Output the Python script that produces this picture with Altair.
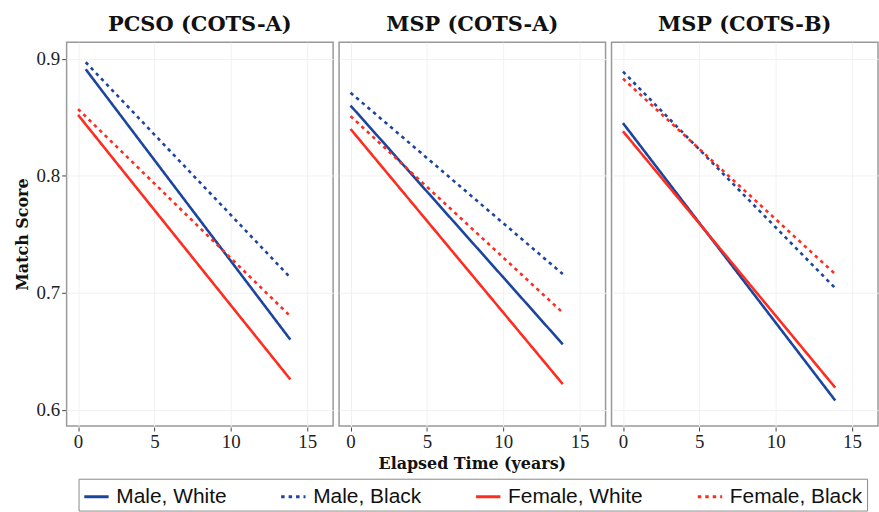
import altair as alt
import pandas as pd

panels = ["PCSO (COTS-A)", "MSP (COTS-A)", "MSP (COTS-B)"]
groups = ["Male, White", "Male, Black", "Female, White", "Female, Black"]

# per panel, per group (order of groups)
x_start = {
    "PCSO (COTS-A)": [0.5, 0.5, 0.0, 0.0],
    "MSP (COTS-A)": [0.0, 0.0, 0.0, 0.0],
    "MSP (COTS-B)": [0.0, 0.0, 0.0, 0.0],
}
x_end = {
    "PCSO (COTS-A)": [13.9, 13.9, 13.9, 13.9],
    "MSP (COTS-A)": [13.9, 13.9, 13.9, 13.9],
    "MSP (COTS-B)": [13.9, 13.9, 13.9, 13.9],
}
y_start = {
    "PCSO (COTS-A)": [0.891, 0.897, 0.852, 0.857],
    "MSP (COTS-A)": [0.860, 0.871, 0.840, 0.851],
    "MSP (COTS-B)": [0.845, 0.889, 0.838, 0.883],
}
y_end = {
    "PCSO (COTS-A)": [0.660, 0.713, 0.626, 0.680],
    "MSP (COTS-A)": [0.656, 0.716, 0.622, 0.683],
    "MSP (COTS-B)": [0.608, 0.704, 0.619, 0.716],
}

colors = ["#1c45a0", "#1c45a0", "#ff2d1f", "#ff2d1f"]
dashes = [[1, 0], [3.5, 4], [1, 0], [3.5, 4]]

rows = []
for p in panels:
    for i, g in enumerate(groups):
        rows.append({"panel": p, "group": g, "t": x_start[p][i], "score": y_start[p][i]})
        rows.append({"panel": p, "group": g, "t": x_end[p][i], "score": y_end[p][i]})
df = pd.DataFrame(rows)

legend = alt.Legend(
    title=None,
    orient="none",
    legendX=12,
    legendY=439,
    direction="horizontal",
    columns=4,
    columnPadding=48,
    labelFont="Liberation Sans",
    labelFontSize=21,
    labelColor="#111",
    labelOffset=6,
    symbolType="stroke",
    symbolSize=600,
    symbolStrokeWidth=3,
    strokeColor="#888",
    padding=4,
)

base = alt.Chart(df).mark_line(strokeWidth=2.6, clip=True).encode(
    x=alt.X(
        "t:Q",
        scale=alt.Scale(domain=[-0.75, 16.7], nice=False, zero=False),
        axis=alt.Axis(values=[0, 5, 10, 15], title=None, format="d"),
    ),
    y=alt.Y(
        "score:Q",
        scale=alt.Scale(domain=[0.5862, 0.9141], nice=False, zero=False),
        axis=alt.Axis(values=[0.6, 0.7, 0.8, 0.9], title="Match Score", format=".1f",
                      titlePadding=6),
    ),
    color=alt.Color("group:N", sort=groups,
                    scale=alt.Scale(domain=groups, range=colors), legend=legend),
    strokeDash=alt.StrokeDash("group:N", sort=groups,
                              scale=alt.Scale(domain=groups, range=dashes), legend=legend),
    detail="group:N",
).properties(width=268, height=386)

chart = base.facet(
    column=alt.Column(
        "panel:N",
        sort=panels,
        title="Elapsed Time (years)",
        header=alt.Header(
            labelFont="DejaVu Serif",
            labelFontWeight="bold",
            labelFontSize=21,
            labelColor="#111",
            labelPadding=6,
            labelOrient="top",
            titleOrient="bottom",
            titleFont="DejaVu Serif",
            titleFontWeight="bold",
            titleFontSize=16,
            titleColor="#111",
            titlePadding=-6,
        ),
    ),
    spacing=4,
).properties(
    padding={"left": 14, "top": 13, "right": 0, "bottom": 0}
).configure_view(
    stroke="#999", strokeWidth=1.5
).configure_axis(
    domain=False,
    grid=True,
    gridColor="#f1f1f1",
    tickColor="#444",
    tickSize=4,
    labelFont="Liberation Serif",
    labelFontSize=19,
    labelColor="#222",
    titleFont="DejaVu Serif",
    titleFontWeight="bold",
    titleFontSize=16,
    titleColor="#111",
)

chart.save("out.html", embed_options={"renderer": "svg", "actions": False})
